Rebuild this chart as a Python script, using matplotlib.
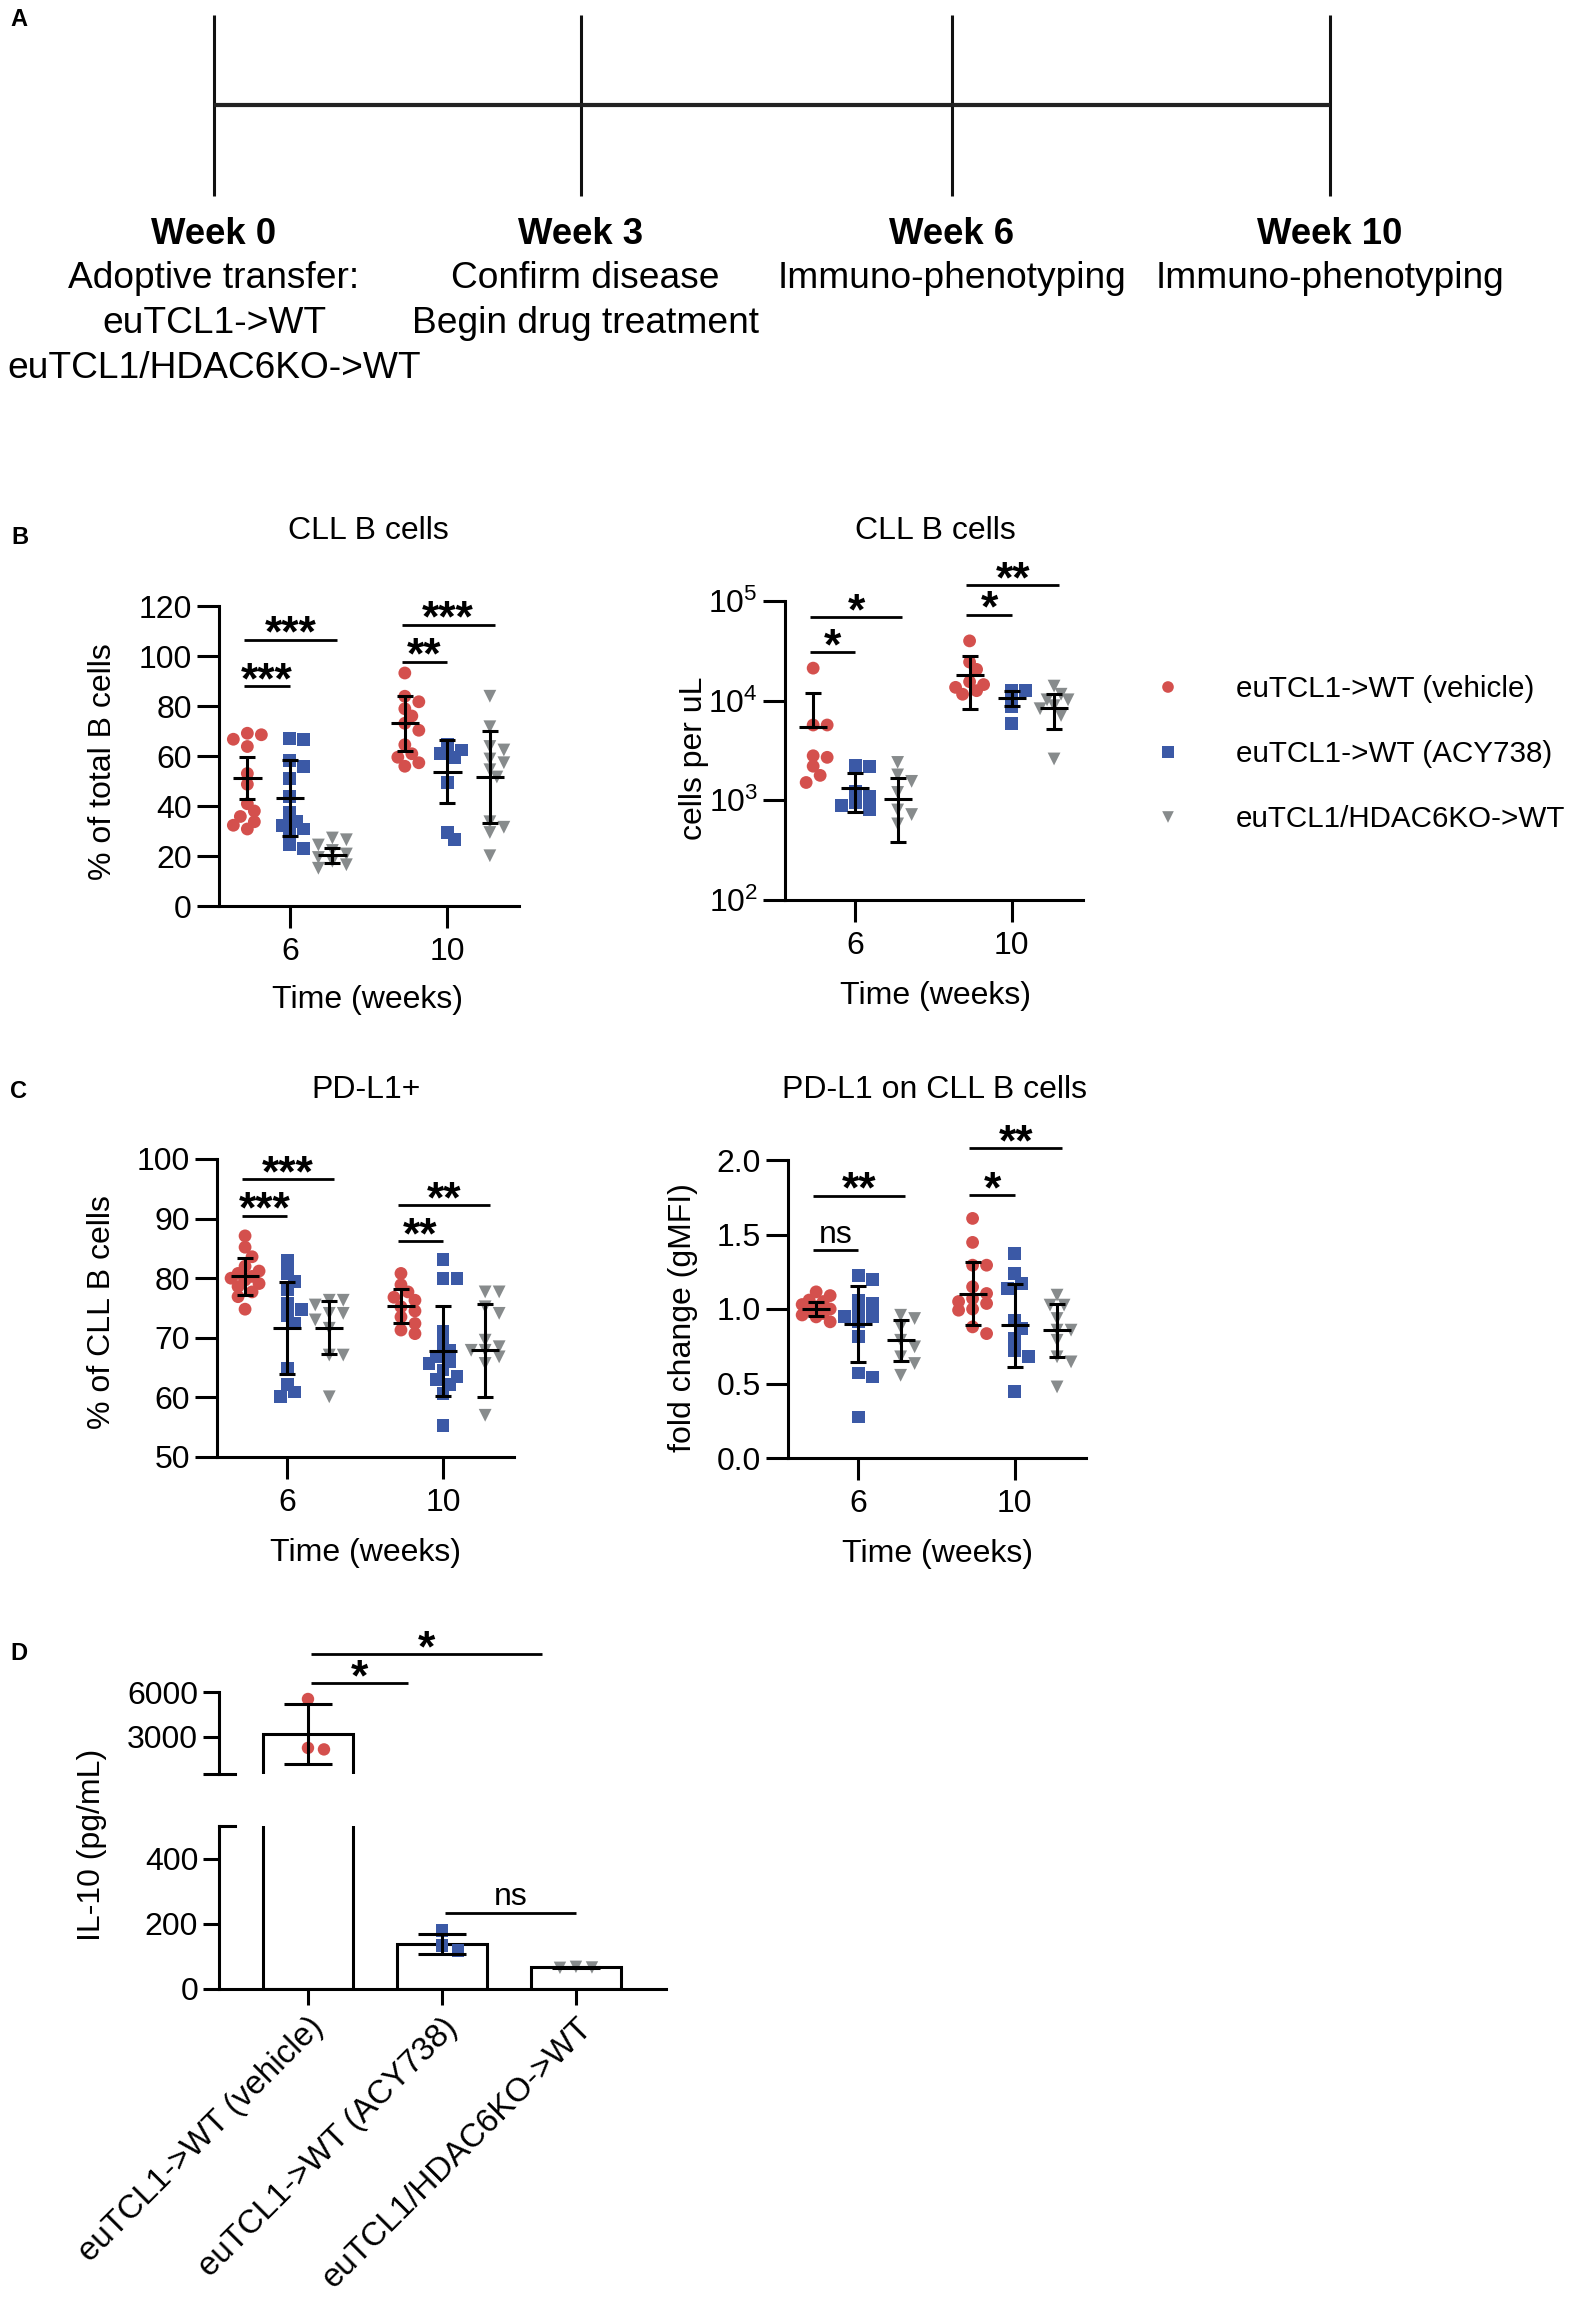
import numpy as np
import matplotlib
matplotlib.use("Agg")
import matplotlib.pyplot as plt
from matplotlib.ticker import NullLocator

plt.rcParams['font.family'] = ['Liberation Sans', 'DejaVu Sans']
plt.rcParams['mathtext.fontset'] = 'custom'
plt.rcParams['mathtext.rm'] = 'Liberation Sans'
plt.rcParams['mathtext.it'] = 'Liberation Sans:italic'
plt.rcParams['mathtext.bf'] = 'Liberation Sans:bold'

W, H, DPI = 1591, 2297, 100
FS = 23
LW = 2.2
OFF = 0.27  # spacing of the three groups inside one week

groups = ["euTCL1->WT (vehicle)", "euTCL1->WT (ACY738)", "euTCL1/HDAC6KO->WT"]
colors = ["#d4504d", "#3b59a6", "#878b8c"]
markers = ["o", "s", "v"]
weeks = ["6", "10"]

# timeline (panel A)
tl_weeks = ["Week 0", "Week 3", "Week 6", "Week 10"]
tl_notes = [["Adoptive transfer:", "euTCL1->WT", "euTCL1/HDAC6KO->WT"],
            ["Confirm disease", "Begin drug treatment"],
            ["Immuno-phenotyping"],
            ["Immuno-phenotyping"]]
tl_xpos = [214, 581, 952, 1330]  # pixel layout of the timeline ticks

# B left: % of total B cells, [week][group]
pctb_pts = [[[69.1, 68.5, 66.7, 63.8, 53.0, 48.7, 40.9, 38.0, 35.8, 33.7, 32.3, 30.8],
             [67.1, 66.7, 58.1, 55.9, 50.9, 43.7, 37.3, 33.7, 32.3, 30.8, 29.4, 24.4, 22.9],
             [27.2, 26.5, 24.4, 22.2, 20.8, 19.4, 17.9, 16.5, 15.1]],
            [[93.2, 83.9, 81.7, 78.9, 76.0, 73.1, 70.3, 64.5, 60.9, 59.5, 57.3, 55.9],
             [64.5, 62.4, 60.9, 59.5, 49.5, 29.4, 26.5],
             [83.9, 71.7, 63.8, 62.4, 58.8, 57.3, 54.5, 51.6, 33.7, 31.5, 29.4, 20.1]]]
pctb_mean = [[51.3, 43.3, 20.4], [73.1, 53.8, 51.6]]
pctb_sd = [[8.5, 15.1, 3.0], [11.0, 12.6, 18.4]]
pctb_sig = [(0, 1, 87.9, "***"), (0, 2, 106.5, "***"), (1, 1, 97.8, "**"), (1, 2, 112.5, "***")]

# B right: cells per uL
cnt_pts = [[[21200, 5700, 5700, 2800, 2700, 2200, 1780, 1510],
            [2190, 2250, 1230, 1085, 880, 810, 950],
            [2400, 1800, 1550, 1200, 800, 720, 580]],
           [[39800, 24400, 20600, 15500, 13600, 12600, 11600, 14500],
            [12600, 12600, 8660, 5950],
            [14000, 11600, 10200, 10200, 8900, 8300, 7100, 2600]]]
cnt_mean = [[5500, 1330, 1025], [18200, 10700, 8400]]
cnt_sd = [[6500, 570, 640], [10000, 1900, 3200]]
cnt_sig = [(0, 1, 30800, "*"), (0, 2, 69000, "*"), (1, 1, 73000, "*"), (1, 2, 144000, "**")]

# C left: % of CLL B cells PD-L1+
pdl_pts = [[[87.1, 85.2, 83.6, 82.0, 80.8, 80.3, 79.7, 79.1, 78.6, 77.7, 76.9, 74.8, 80.0, 81.2],
            [83.0, 80.8, 79.4, 78.1, 75.8, 74.7, 73.8, 72.4, 64.9, 62.1, 60.9, 60.1],
            [76.3, 76.3, 75.5, 74.1, 74.1, 73.0, 71.6, 67.1, 67.1, 60.1]],
           [[80.8, 78.9, 77.7, 76.3, 75.2, 73.5, 72.4, 71.3, 70.7, 76.8, 74.5],
            [83.1, 80.0, 80.0, 71.0, 69.1, 67.9, 66.8, 65.7, 64.6, 63.5, 62.1, 60.7, 55.3, 66.0, 63.0],
            [77.7, 77.7, 75.2, 74.1, 69.6, 67.9, 67.9, 66.8, 65.7, 57.0, 68.5]]]
pdl_mean = [[80.3, 71.7, 71.7], [75.3, 67.8, 67.9]]
pdl_sd = [[3.1, 7.7, 4.5], [2.9, 7.5, 7.8]]
pdl_sig = [(0, 1, 90.5, "***"), (0, 2, 96.6, "***"), (1, 1, 86.2, "**"), (1, 2, 92.2, "**")]

# C right: PD-L1 gMFI fold change
mfi_pts = [[[1.115, 1.09, 1.05, 1.015, 0.99, 0.97, 0.947, 0.914, 1.0, 1.03, 0.96, 1.06],
            [1.227, 1.198, 1.06, 1.037, 0.99, 0.947, 0.947, 0.914, 0.813, 0.571, 0.544, 0.275],
            [0.958, 0.936, 0.88, 0.79, 0.746, 0.679, 0.634, 0.555]],
           [[1.608, 1.447, 1.294, 1.294, 1.149, 1.104, 1.07, 1.037, 0.992, 0.88, 0.835, 1.05, 1.0],
            [1.373, 1.238, 1.171, 1.138, 0.925, 0.869, 0.802, 0.723, 0.679, 0.448],
            [1.093, 1.026, 1.026, 0.936, 0.858, 0.858, 0.79, 0.679, 0.645, 0.477]]]
mfi_mean = [[1.0, 0.90, 0.79], [1.104, 0.891, 0.858]]
mfi_sd = [[0.05, 0.255, 0.136], [0.213, 0.28, 0.177]]
mfi_sig = [(0, 1, 1.395, "ns"), (0, 2, 1.76, "**"), (1, 1, 1.765, "*"), (1, 2, 2.08, "**")]

# D: IL-10
il10_pts = [[5530, 2150, 2250], [179, 133, 118], [68, 66, 65]]
il10_mean = [3200, 139, 66]
il10_sd = [2000, 31, 2]
il10_sig = [(0, 1, 6600, "*"), (0, 2, 8530, "*"), (1, 2, 233, "ns")]
BREAK = 500

fig = plt.figure(figsize=(W / DPI, H / DPI), dpi=DPI)


def px_axes(l, t, r, b):
    return fig.add_axes([l / W, 1 - b / H, (r - l) / W, (b - t) / H])


def ftext(x, y, s, **kw):
    kw.setdefault("ha", "center")
    kw.setdefault("va", "center")
    kw.setdefault("fontsize", FS)
    fig.text(x / W, 1 - y / H, s, **kw)


def swarm_x(ax, xc, vals, d=12.5, step=7.0, nmax=2):
    # spread points sideways (in pixels) so they don't sit on top of each other
    vals = np.asarray(vals, float)
    xy = ax.transData.transform(np.column_stack([np.full(len(vals), xc), vals]))
    x0, ys = xy[0, 0], xy[:, 1]
    cands = [0.0]
    for k in range(1, nmax + 1):
        cands += [k * step, -k * step]
    placed, offs = [], np.zeros(len(vals))
    for i in np.argsort(-vals):
        best, bestd = 0.0, -1.0
        for c in cands:
            dmin = min([np.hypot(c - px, ys[i] - py) for px, py in placed], default=1e9)
            if dmin >= 0.8 * d:
                best = c
                break
            if dmin > bestd:
                best, bestd = c, dmin
        placed.append((best, ys[i]))
        offs[i] = best
    inv = ax.transData.inverted()
    return inv.transform(np.column_stack([x0 + offs, ys]))[:, 0]


def style(ax, ylim, yticks, ylabels, tick_len=16):
    ax.set_xlim(-0.45, 1.455)
    ax.set_ylim(ylim)
    ax.spines[["top", "right"]].set_visible(False)
    ax.spines[["left", "bottom"]].set_linewidth(LW)
    ax.set_yticks(yticks)
    ax.set_yticklabels(ylabels)
    ax.yaxis.set_minor_locator(NullLocator())
    ax.set_xticks([0, 1])
    ax.set_xticklabels(weeks)
    ax.tick_params(axis="both", width=LW, length=tick_len, labelsize=FS)
    ax.tick_params(axis="y", pad=3.5)
    ax.tick_params(axis="x", pad=6)
    ax.patch.set_alpha(0)


def sig(ax, x0, x1, y, label):
    ax.plot([x0, x1], [y, y], color="k", lw=2.0, clip_on=False, solid_capstyle="butt")
    xm = (x0 + x1) / 2
    if label == "ns":
        ax.annotate(label, (xm, y), xytext=(0, 5.5), textcoords="offset points",
                    ha="center", va="baseline", fontsize=FS, annotation_clip=False)
    else:
        ax.annotate(label, (xm, y), xytext=(0, -5), textcoords="offset points",
                    ha="center", va="baseline", fontsize=32, fontweight="bold",
                    annotation_clip=False)


def dot_panel(ax, pts, means, sds, sigs, log=False):
    for g in range(2):
        for k in range(3):
            xc = g + (k - 1) * OFF
            xs = swarm_x(ax, xc, pts[g][k])
            ax.scatter(xs, pts[g][k], s=85, marker=markers[k], color=colors[k],
                       edgecolors="none", zorder=2, clip_on=False)
            m, sd = means[g][k], sds[g][k]
            lo = sd if (not log or m - sd > 0) else 0.0
            ax.hlines(m, xc - 0.09, xc + 0.09, color="k", lw=LW, zorder=3)
            ax.errorbar(xc, m, yerr=[[lo], [sd]], fmt="none", ecolor="k",
                        elinewidth=LW, capsize=5.8, capthick=LW, zorder=3)
    for g, j, y, lab in sigs:
        x0 = g - OFF - 0.02
        x1 = g + (j - 1) * OFF + (0.03 if j == 2 else 0.0)
        sig(ax, x0, x1, y, lab)


# ---------------- A: timeline
ax_a = fig.add_axes([0, 1 - 400 / H, 1, 400 / H])
ax_a.set_xlim(0, W)
ax_a.set_ylim(400, 0)
ax_a.axis("off")
ax_a.vlines(tl_xpos, 15, 196, color="#111111", lw=2.2)
ax_a.hlines(105, tl_xpos[0], tl_xpos[-1], color="#222222", lw=3.0)
for xp, wk, notes in zip(tl_xpos, tl_weeks, tl_notes):
    ax_a.text(xp, 235, wk, ha="center", va="center", fontsize=26.3, fontweight="bold")
    for r, line in enumerate(notes):
        ax_a.text(xp + (4 if wk == "Week 3" else 0), 279 + 44.5 * r, line,
                  ha="center", va="center", fontsize=26.7)

# panel letters
for lab, (x, y) in zip("ABCD", [(10, 19), (11, 537), (10, 1092), (10, 1653)]):
    ftext(x, y, lab, fontsize=17, fontweight="bold", ha="left")

# ---------------- B left
ax = px_axes(219, 606, 519, 906)
style(ax, (0, 120), np.arange(0, 121, 20), [str(v) for v in range(0, 121, 20)])
dot_panel(ax, pctb_pts, pctb_mean, pctb_sd, pctb_sig)
ftext(368, 531, "CLL B cells")
ftext(103, 762, "% of total B cells", rotation=90)
ftext(368, 1000, "Time (weeks)")

# ---------------- B right (log)
ax = px_axes(785, 601, 1083, 900)
ax.set_yscale("log")
style(ax, (100, 1e5), [1e2, 1e3, 1e4, 1e5], [r"$10^{%d}$" % e for e in range(2, 6)])
dot_panel(ax, cnt_pts, cnt_mean, cnt_sd, cnt_sig, log=True)
ftext(935, 531, "CLL B cells")
ftext(694, 758, "cells per uL", rotation=90)
ftext(936, 996, "Time (weeks)")

# legend
ax_l = px_axes(1140, 650, 1591, 850)
ax_l.set_xlim(1140, 1591)
ax_l.set_ylim(850, 650)
ax_l.axis("off")
for k in range(3):
    ax_l.scatter([1168], [687 + 65 * k], s=70, marker=markers[k], color=colors[k], edgecolors="none")
    ax_l.text(1236, 689 + 65 * k, groups[k], ha="left", va="center", fontsize=21.3)

# ---------------- C left
ax = px_axes(217, 1159, 514, 1457)
style(ax, (50, 100), np.arange(50, 101, 10), [str(v) for v in range(50, 101, 10)])
dot_panel(ax, pdl_pts, pdl_mean, pdl_sd, pdl_sig)
ftext(366, 1090, "PD-L1+")
ftext(102, 1312, "% of CLL B cells", rotation=90)
ftext(366, 1553, "Time (weeks)")

# ---------------- C right
ax = px_axes(788, 1160, 1086, 1458)
style(ax, (0, 2.0), np.arange(0, 2.01, 0.5), ["%.1f" % v for v in np.arange(0, 2.01, 0.5)])
dot_panel(ax, mfi_pts, mfi_mean, mfi_sd, mfi_sig)
ftext(935, 1090, "PD-L1 on CLL B cells")
ftext(683, 1318, "fold change (gMFI)", rotation=90)
ftext(938, 1554, "Time (weeks)")

# ---------------- D: broken-axis bar chart
xb = np.arange(3)
ax_up = px_axes(219, 1692, 666, 1774)
ax_lo = px_axes(219, 1826, 666, 1989)
for a, ylim in [(ax_up, (BREAK, 6000)), (ax_lo, (0, BREAK))]:
    a.set_xlim(-0.664, 2.672)
    a.set_ylim(ylim)
    a.spines[["top", "right"]].set_visible(False)
    a.spines[["left", "bottom"]].set_linewidth(LW)
    a.tick_params(axis="both", width=LW, length=11.5, labelsize=FS)
    a.tick_params(axis="y", pad=3.5)
    a.patch.set_alpha(0)

for k in range(3):
    # tall bar spans both segments, the others stay in the lower one
    segs = [ax_up, ax_lo] if il10_mean[k] > BREAK else [ax_lo]
    for a in segs:
        a.bar(xb[k], il10_mean[k], width=0.665, color="white", edgecolor="k",
              linewidth=LW, zorder=1)
    a = ax_up if il10_mean[k] > BREAK else ax_lo
    a.errorbar(xb[k], il10_mean[k], yerr=il10_sd[k], fmt="none", ecolor="k",
               elinewidth=LW, capsize=17, capthick=LW, zorder=3)
    ys = np.asarray(il10_pts[k], float)
    for a, sel in [(ax_up, ys > BREAK), (ax_lo, ys <= BREAK)]:
        if sel.any():
            xs = swarm_x(a, xb[k], ys[sel], step=8.0)
            a.scatter(xs, ys[sel], s=80, marker=markers[k], color=colors[k],
                      edgecolors="none", zorder=2)

ax_up.spines["bottom"].set_visible(False)
ax_up.set_xticks([])
ax_up.set_yticks([BREAK, 3000, 6000])
ax_up.set_yticklabels(["", "3000", "6000"])
ax_lo.set_yticks([0, 200, 400])
ax_lo.set_yticklabels(["0", "200", "400"])
ax_lo.set_xticks(xb)
ax_lo.set_xticklabels(groups, rotation=45, ha="right", va="top", rotation_mode="anchor",
                      fontsize=23.8)
ax_lo.tick_params(axis="x", pad=5)
brk = 16 / (666 - 219)
ax_up.plot([0, brk], [0, 0], transform=ax_up.transAxes, color="k", lw=LW, clip_on=False)
ax_lo.plot([0, brk], [1, 1], transform=ax_lo.transAxes, color="k", lw=LW, clip_on=False)

for i, j, y, lab in il10_sig:
    a = ax_up if y > BREAK else ax_lo
    x0 = i + 0.02
    x1 = j - 0.25 if i == 0 else j
    sig(a, x0, x1, y, lab)

ftext(92, 1845, "IL-10 (pg/mL)", rotation=90)

fig.savefig("out.png", dpi=DPI)
